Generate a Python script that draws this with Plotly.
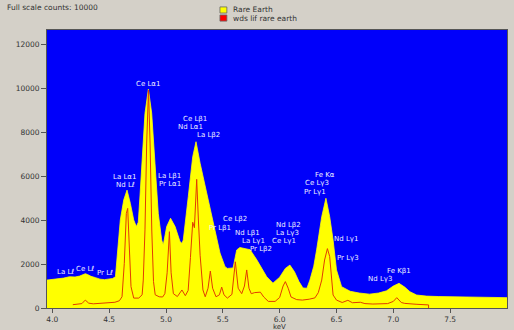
import plotly.graph_objects as go

# ---- data ----
kev_rare = [3.953, 4.00, 4.05, 4.10, 4.15, 4.20, 4.24, 4.27, 4.29, 4.31, 4.34, 4.38, 4.42, 4.46, 4.50, 4.53,
            4.555, 4.575, 4.598, 4.628, 4.657, 4.686, 4.716, 4.739, 4.756, 4.77, 4.786, 4.815, 4.845, 4.874,
            4.903, 4.932, 4.962, 4.976, 5.006, 5.04, 5.08, 5.123, 5.14, 5.152, 5.196, 5.235, 5.264, 5.30,
            5.358, 5.416, 5.475, 5.519, 5.54, 5.59, 5.622, 5.65, 5.70, 5.74, 5.80, 5.886, 5.941, 6.00, 6.05,
            6.09, 6.13, 6.17, 6.205, 6.24, 6.266, 6.30, 6.325, 6.37, 6.407, 6.44, 6.47, 6.50, 6.545, 6.62,
            6.70, 6.79, 6.87, 6.94, 7.00, 7.05, 7.10, 7.146, 7.205, 7.29, 7.40, 7.50, 7.60, 7.70, 7.80, 7.90, 8.00]
counts_rare = [1270, 1290, 1330, 1360, 1420, 1410, 1450, 1520, 1560, 1520, 1440, 1380, 1310, 1290, 1310, 1340,
               1420, 2790, 4000, 4910, 5360, 4760, 4000, 3700, 3900, 5000, 6580, 8850, 9950, 8860,
               6580, 4300, 3090, 2860, 3700, 4080, 3700, 3020, 2940, 3090, 5060, 6880, 7560, 6580,
               5230, 3860, 2500, 1880, 1800, 1820, 2640, 2750, 2700, 2650, 2180, 1420, 1130, 1400, 1800,
               1950, 1650, 1200, 910, 900, 1270, 1900, 2640, 4150, 4990, 4150, 3090, 1730, 970, 760,
               680, 630, 680, 780, 1000, 1120, 950, 740, 590, 540, 520, 510, 500, 490, 480, 475, 470]

kev_wds = [4.18, 4.22, 4.26, 4.29, 4.32, 4.36, 4.40, 4.45, 4.50, 4.55, 4.59, 4.613, 4.633, 4.651, 4.663, 4.677,
           4.692, 4.716, 4.76, 4.79, 4.80, 4.815, 4.83, 4.846, 4.86, 4.875, 4.89, 4.905, 4.94, 4.97, 4.99,
           5.01, 5.03, 5.045, 5.065, 5.10, 5.14, 5.17, 5.195, 5.215, 5.235, 5.25, 5.27, 5.285, 5.30, 5.325,
           5.345, 5.37, 5.39, 5.41, 5.44, 5.47, 5.49, 5.51, 5.54, 5.58, 5.61, 5.635, 5.666, 5.69, 5.71, 5.73,
           5.75, 5.78, 5.83, 5.86, 5.90, 5.96, 6.00, 6.03, 6.05, 6.075, 6.10, 6.15, 6.20, 6.26, 6.31, 6.34,
           6.37, 6.395, 6.42, 6.44, 6.455, 6.47, 6.50, 6.55, 6.60, 6.64, 6.71, 6.75, 6.82, 6.95, 7.00, 7.03,
           7.07, 7.10, 7.20, 7.31, 7.31]
counts_wds = [150, 170, 200, 360, 220, 190, 210, 220, 240, 260, 330, 510, 2030, 4300, 4530, 2790,
              970, 450, 450, 600, 1270, 3550, 7500, 9900, 7500, 3500, 1200, 600, 510, 500, 650,
              1600, 3470, 1600, 650, 520, 820, 560, 800, 2300, 3900, 3650, 5850, 4000, 2400, 820,
              510, 900, 1680, 900, 510, 600, 950, 600, 450, 620, 2100, 900, 650, 1000, 1730, 900,
              650, 700, 720, 500, 300, 300, 480, 1000, 1200, 900, 500, 380, 360, 400, 460, 700,
              1270, 2180, 2700, 2340, 1270, 590, 360, 250, 350, 240, 260, 200, 180, 200, 300, 470,
              250, 210, 170, 140, 0]

line_labels = ["Ce Lα1", "Ce Lβ1", "Nd Lα1", "La Lβ2", "La Lα1", "Nd Lℓ", "La Lβ1", "Pr Lα1",
               "La Lℓ", "Ce Lℓ", "Pr Lℓ", "Ce Lβ2", "Pr Lβ1", "Nd Lβ1", "La Lγ1", "Pr Lβ2",
               "Nd Lβ2", "La Lγ3", "Ce Lγ1", "Fe Kα", "Ce Lγ3", "Pr Lγ1", "Nd Lγ1", "Pr Lγ3",
               "Fe Kβ1", "Nd Lγ3"]
label_kev = [4.842, 5.255, 5.215, 5.378, 4.635, 4.644, 5.031, 5.031,
             4.112, 4.288, 4.463, 5.607, 5.479, 5.717, 5.770, 5.836,
             6.078, 6.069, 6.042, 6.398, 6.332, 6.310, 6.583, 6.605,
             7.049, 6.887]
label_counts = [10180, 8590, 8230, 7860, 5950, 5590, 6000, 5640,
                1650, 1770, 1600, 4050, 3640, 3410, 3050, 2680,
                3770, 3410, 3050, 6050, 5680, 5270, 3140, 2270,
                1680, 1320]

x_ticks = [4.0, 4.5, 5.0, 5.5, 6.0, 6.5, 7.0, 7.5]
y_ticks = [0, 2000, 4000, 6000, 8000, 10000, 12000]

series_names = ["Rare Earth", "wds lif rare earth"]
series_colors = ["#ffff00", "#ff0000"]

FONT = "DejaVu Sans"

fig = go.Figure()
fig.add_trace(go.Scatter(x=kev_rare, y=counts_rare, mode="lines", fill="tozeroy",
                         fillcolor="#ffff00", line=dict(color="#ffff00", width=0.8),
                         name=series_names[0], showlegend=False))
fig.add_trace(go.Scatter(x=kev_wds, y=counts_wds, mode="lines",
                         line=dict(color="#e23c00", width=1),
                         name=series_names[1], showlegend=False))

for t, xv, yv in zip(line_labels, label_kev, label_counts):
    fig.add_annotation(x=xv, y=yv, text=t, showarrow=False, xanchor="center", yanchor="middle",
                       font=dict(family=FONT, size=7, color="#eef0ff"))

# legend (drawn manually for tight spacing)
leg_y = [1.072, 1.043]
for name, col, yy in zip(series_names, series_colors, leg_y):
    fig.add_shape(type="rect", xref="paper", yref="paper", x0=0.376, x1=0.391,
                  y0=yy - 0.011, y1=yy + 0.011, fillcolor=col, line=dict(color="#666", width=0.8))
    fig.add_annotation(xref="paper", yref="paper", x=0.400, y=yy, text=name, showarrow=False,
                       xanchor="left", yanchor="middle",
                       font=dict(family=FONT, size=7.5, color="#333"))

# x axis title
fig.add_annotation(xref="paper", yref="paper", x=(279 - 47) / 460, y=-(326.5 - 308) / 278, text="keV",
                   showarrow=False, xanchor="center", yanchor="middle",
                   font=dict(family=FONT, size=7, color="#333"))

fig.update_layout(
    width=514, height=330,
    margin=dict(l=47, r=7, t=30, b=22),
    paper_bgcolor="#d4d0c8", plot_bgcolor="#0000fa",
    font=dict(family=FONT, size=7.5, color="#333"),
    title=dict(text="Full scale counts: 10000", x=7 / 514, xanchor="left", y=1 - 7 / 330,
               yanchor="middle", font=dict(family=FONT, size=7.5, color="#333")),
    showlegend=False,
)
fig.update_xaxes(range=[3.953, 8.0], tickvals=x_ticks, ticktext=[f"{v:.1f}" for v in x_ticks],
                 ticks="outside", ticklen=4, tickcolor="#555", showgrid=False, zeroline=False,
                 showline=True, linecolor="#555", linewidth=1, mirror=True, automargin=False,
                 tickfont=dict(size=7.5))
fig.update_yaxes(range=[0, 12640], tickvals=y_ticks, ticktext=[str(v) for v in y_ticks],
                 ticks="outside", ticklen=5, tickcolor="#555",
                 showgrid=False, zeroline=False, showline=True, linecolor="#555", linewidth=1, mirror=True,
                 automargin=False)

fig.write_html("out.html", config={"displayModeBar": False},
               post_script="document.body.style.margin='0';document.body.style.overflow='hidden';")
